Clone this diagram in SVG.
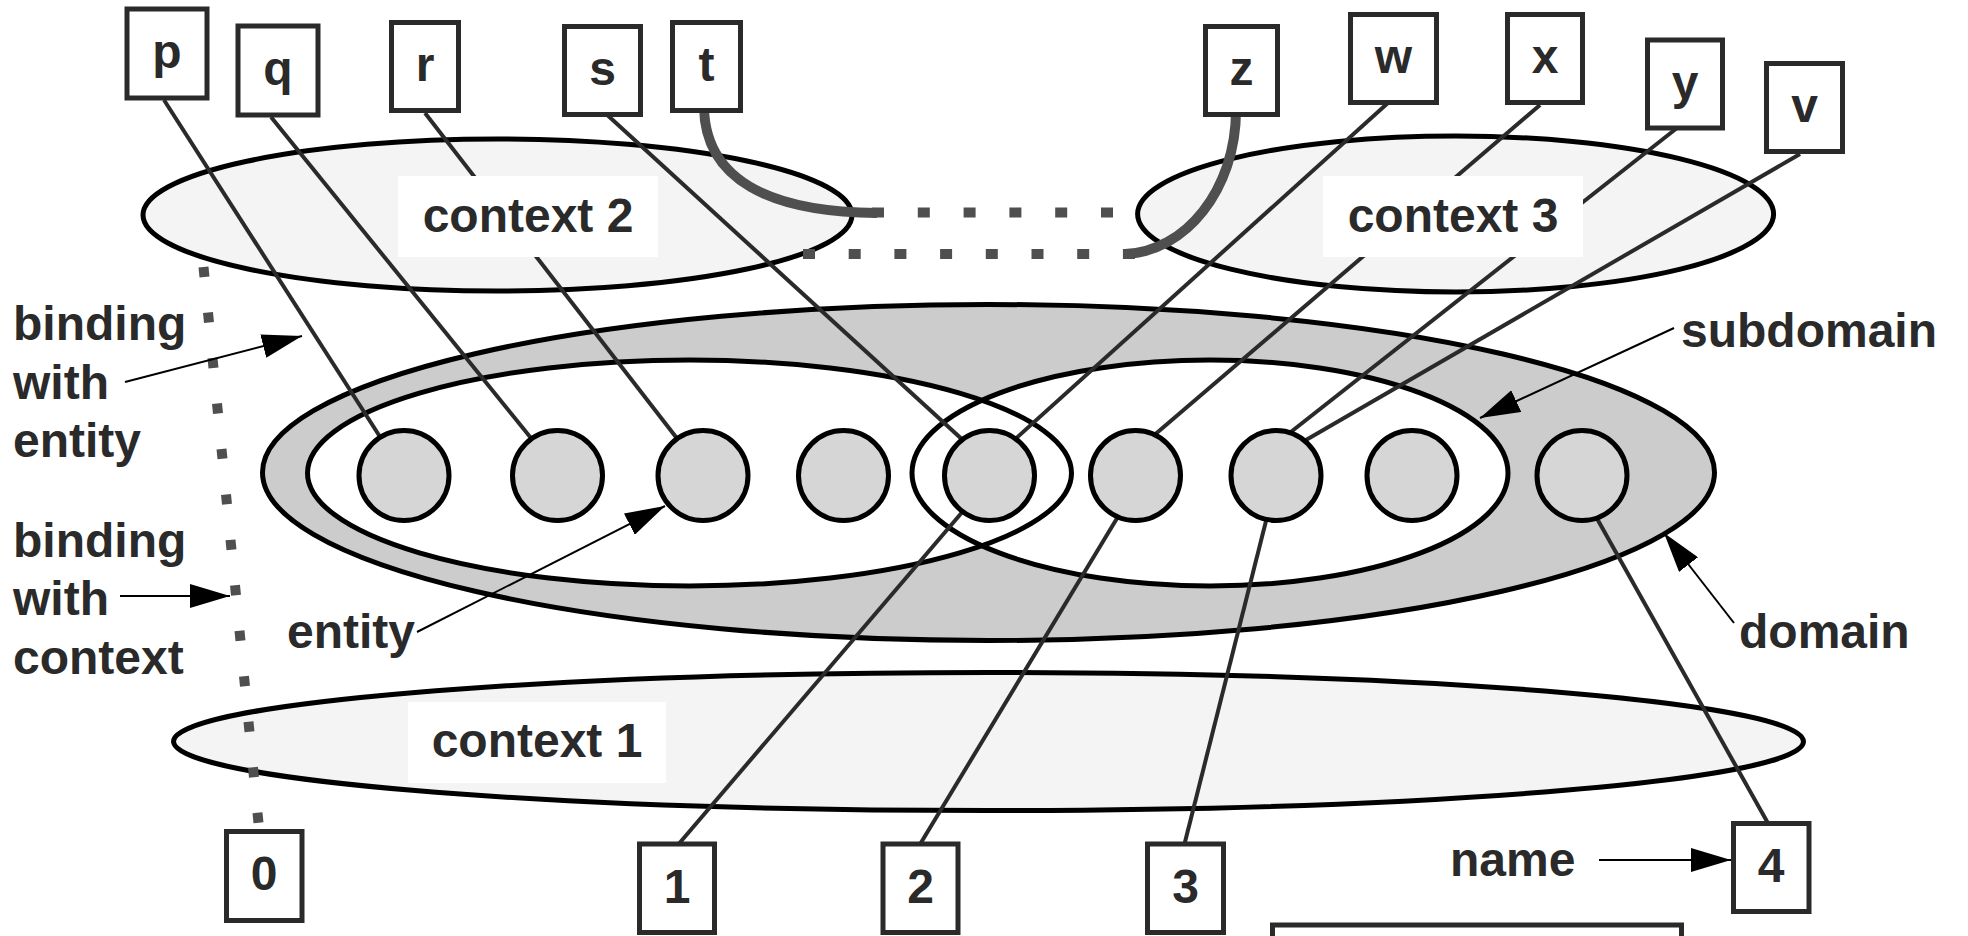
<svg xmlns="http://www.w3.org/2000/svg" width="1968" height="936" viewBox="0 0 1968 936">
<defs>
<style>
text{font-family:"Liberation Sans",Arial,sans-serif;font-weight:bold;font-size:48px;fill:#2a2a2a}
.mid{text-anchor:middle}
.ctx{fill:#f4f4f4;stroke:#000;stroke-width:5}
.dom{fill:#cccccc;stroke:#000;stroke-width:5}
.sub{fill:#fff;stroke:none}
.subs{fill:none;stroke:#000;stroke-width:5}
.ent{fill:#d6d6d6;stroke:#000;stroke-width:5}
.box{fill:#fff;stroke:#2a2a2a;stroke-width:5}
.lbl{fill:#fff;stroke:none}
.ln{stroke:#2a2a2a;stroke-width:4;fill:none}
.thick{stroke:#4f4f4f;stroke-width:10;fill:none}
.dot{stroke:#4f4f4f;stroke-width:10;fill:none}
.arr{stroke:#000;stroke-width:2;fill:none;marker-end:url(#ah)}
</style>
<marker id="ah" markerUnits="userSpaceOnUse" markerWidth="40" markerHeight="24" refX="40" refY="12" orient="auto">
<path d="M0,0 L40,12 L0,24 z" fill="#000"/>
</marker>
</defs>
<rect width="1968" height="936" fill="#fff"/>

<g id="context1"><ellipse class="ctx" cx="988.5" cy="741.5" rx="815" ry="69"/></g>
<g id="context2"><ellipse class="ctx" cx="497.5" cy="215" rx="354.5" ry="76"/></g>
<g id="context3"><ellipse class="ctx" cx="1455.6" cy="214" rx="318" ry="78"/></g>
<g id="domain"><ellipse class="dom" cx="988.5" cy="472.5" rx="726" ry="168"/></g>
<g id="subdomains">
<ellipse class="sub" cx="689.5" cy="473" rx="382" ry="113"/>
<ellipse class="sub" cx="1210" cy="473" rx="298" ry="113"/>
<ellipse class="subs" cx="689.5" cy="473" rx="382" ry="113"/>
<ellipse class="subs" cx="1210" cy="473" rx="298" ry="113"/>
</g>

<g id="connectors">
<line class="ln" x1="164" y1="100" x2="384" y2="443"/>
<line class="ln" x1="271" y1="117" x2="535" y2="443"/>
<line class="ln" x1="425" y1="113" x2="679" y2="441"/>
<line class="ln" x1="604" y1="112" x2="965" y2="442"/>
<line class="ln" x1="1389" y1="102" x2="1012" y2="442"/>
<line class="ln" x1="1540" y1="105" x2="1152" y2="437"/>
<line class="ln" x1="1677" y1="128" x2="1287" y2="435"/>
<line class="ln" x1="1800" y1="154" x2="1306" y2="440"/>
<line class="ln" x1="964" y1="510" x2="677" y2="846"/>
<line class="ln" x1="1119" y1="515" x2="919" y2="846"/>
<line class="ln" x1="1267" y1="517" x2="1184" y2="846"/>
<line class="ln" x1="1595" y1="515" x2="1769" y2="825"/>
<path class="thick" d="M704,107 C705,180 770,212 877,213"/>
<path class="thick" d="M1236,110 C1236,190 1185,252 1125,254"/>
<line class="dot" x1="872" y1="212.5" x2="1114" y2="212.5" stroke-dasharray="12 33.8"/>
<line class="dot" x1="803" y1="254" x2="1135" y2="254" stroke-dasharray="12 33.7"/>
<line class="dot" x1="203.5" y1="267" x2="258.8" y2="826" stroke-dasharray="10 35.7"/>
<line class="arr" x1="125" y1="382" x2="302" y2="336"/>
<line class="arr" x1="120" y1="596" x2="230" y2="596"/>
<line class="arr" x1="417" y1="632" x2="665" y2="506"/>
<line class="arr" x1="1674" y1="328" x2="1480" y2="418"/>
<line class="arr" x1="1734" y1="623" x2="1664" y2="533"/>
<line class="arr" x1="1599" y1="860" x2="1731" y2="860"/>
</g>

<g id="context-labels">
<rect class="lbl" x="398" y="176" width="260" height="81"/>
<text class="mid" x="528" y="232">context 2</text>
<rect class="lbl" x="1323" y="176" width="260" height="81"/>
<text class="mid" x="1453" y="232">context 3</text>
<rect class="lbl" x="408" y="702" width="258" height="81"/>
<text class="mid" x="537" y="757">context 1</text>
</g>

<g id="entities">
<circle class="ent" cx="404" cy="475.5" r="45"/>
<circle class="ent" cx="557.5" cy="475.5" r="45"/>
<circle class="ent" cx="703" cy="475.5" r="45"/>
<circle class="ent" cx="843.5" cy="475.5" r="45"/>
<circle class="ent" cx="989.5" cy="475.5" r="45"/>
<circle class="ent" cx="1135.5" cy="475.5" r="45"/>
<circle class="ent" cx="1276" cy="475.5" r="45"/>
<circle class="ent" cx="1412" cy="475.5" r="45"/>
<circle class="ent" cx="1582" cy="475.5" r="45"/>
</g>

<g id="box-p"><rect class="box" x="127" y="9" width="80" height="89"/><text class="mid" x="167" y="68">p</text></g>
<g id="box-q"><rect class="box" x="238" y="26" width="80" height="89"/><text class="mid" x="278" y="85">q</text></g>
<g id="box-r"><rect class="box" x="391.5" y="22.5" width="67" height="88"/><text class="mid" x="425" y="81">r</text></g>
<g id="box-s"><rect class="box" x="564.5" y="26.5" width="76" height="88"/><text class="mid" x="602.5" y="85">s</text></g>
<g id="box-t"><rect class="box" x="672.5" y="22.5" width="68" height="88"/><text class="mid" x="706.5" y="81">t</text></g>
<g id="box-z"><rect class="box" x="1205.5" y="26.5" width="72" height="88"/><text class="mid" x="1241.5" y="85">z</text></g>
<g id="box-w"><rect class="box" x="1350.5" y="14.5" width="86" height="88"/><text class="mid" x="1393.5" y="73">w</text></g>
<g id="box-x"><rect class="box" x="1507.5" y="14.5" width="75" height="88"/><text class="mid" x="1545" y="73">x</text></g>
<g id="box-y"><rect class="box" x="1647.5" y="40" width="75" height="88"/><text class="mid" x="1685" y="99">y</text></g>
<g id="box-v"><rect class="box" x="1766.5" y="63.5" width="76" height="88"/><text class="mid" x="1804.5" y="122">v</text></g>
<g id="box-0"><rect class="box" x="226.5" y="831.5" width="75.5" height="89"/><text class="mid" x="264" y="890">0</text></g>
<g id="box-1"><rect class="box" x="639.5" y="844" width="75" height="88.5"/><text class="mid" x="677" y="903">1</text></g>
<g id="box-2"><rect class="box" x="883" y="844" width="75" height="88.5"/><text class="mid" x="920.5" y="903">2</text></g>
<g id="box-3"><rect class="box" x="1147.5" y="844" width="76" height="88.5"/><text class="mid" x="1185.5" y="903">3</text></g>
<g id="box-4"><rect class="box" x="1733.5" y="823.5" width="75.5" height="88"/><text class="mid" x="1771" y="882">4</text></g>
<g id="box-bottom"><rect class="box" x="1272.5" y="925" width="409" height="40"/></g>

<g id="labels">
<text x="13" y="340">binding</text>
<text x="13" y="398.5">with</text>
<text x="13" y="457">entity</text>
<text x="13" y="557">binding</text>
<text x="13" y="615">with</text>
<text x="13" y="674">context</text>
<text x="287" y="648">entity</text>
<text x="1681" y="347">subdomain</text>
<text x="1739" y="648">domain</text>
<text x="1450" y="876">name</text>
</g>
</svg>
